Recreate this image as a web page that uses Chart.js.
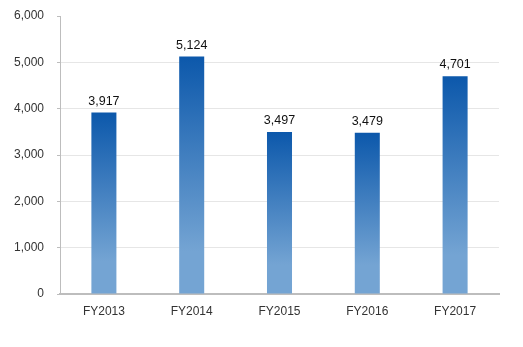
<!DOCTYPE html>
<html>
<head>
<meta charset="utf-8">
<script src="https://cdn.jsdelivr.net/npm/chart.js@4/dist/chart.umd.min.js"></script>
<style>
  html, body { margin: 0; padding: 0; background: #fff; }
  #wrap { width: 523px; height: 347px; }
</style>
</head>
<body>
<div id="wrap"><canvas id="myChart"></canvas></div>
<script>
const years = ['FY2013', 'FY2014', 'FY2015', 'FY2016', 'FY2017'];
const amounts = [3917, 5124, 3497, 3479, 4701];
const yTicks = [0, 1000, 2000, 3000, 4000, 5000, 6000];

const fontFamily = '"Liberation Sans", Arial, sans-serif';

function barFill(context) {
    const chart = context.chart;
    const y = chart.scales.y;
    if (!y || context.parsed == null || y.top === undefined) return '#3f72b4';
    const top = y.getPixelForValue(context.parsed.y);
    const base = y.getPixelForValue(0);
    if (!isFinite(top) || !isFinite(base)) return '#3f72b4';
    const g = chart.ctx.createLinearGradient(0, top, 0, base);
    g.addColorStop(0, '#0c58ab');
    g.addColorStop(0.82, '#74a4d3');
    g.addColorStop(1, '#74a4d3');
    return g;
}

// value labels above each bar
const valueLabels = {
    id: 'valueLabels',
    afterDatasetsDraw(chart) {
        const ctx = chart.ctx;
        const meta = chart.getDatasetMeta(0);
        ctx.save();
        ctx.font = '12.5px ' + fontFamily;
        ctx.fillStyle = '#111';
        ctx.textAlign = 'center';
        ctx.textBaseline = 'bottom';
        meta.data.forEach((bar, i) => {
            ctx.fillText(amounts[i].toLocaleString('en-US'), bar.x, bar.y - 5);
        });
        ctx.restore();
    }
};

new Chart(document.getElementById('myChart').getContext('2d'), {
    type: 'bar',
    data: {
        labels: years,
        datasets: [{
            data: amounts,
            backgroundColor: barFill,
            borderWidth: 0,
            barPercentage: 0.57,
            categoryPercentage: 0.5
        }]
    },
    options: {
        responsive: true,
        maintainAspectRatio: false,
        animation: false,
        layout: { padding: { left: 0, top: 16, right: 24, bottom: 0 } },
        plugins: {
            legend: { display: false },
            tooltip: { enabled: false }
        },
        scales: {
            x: {
                grid: { display: false },
                border: { color: '#bdbdbd', width: 2 },
                ticks: { color: '#333', font: { family: fontFamily, size: 12 }, padding: 2 },
                afterFit(scale) { scale.height = 53; }
            },
            y: {
                min: 0,
                max: 6000,
                afterBuildTicks(scale) { scale.ticks = yTicks.map(v => ({ value: v })); },
                grid: {
                    color: (c) => (c.tick && c.tick.value === 6000) ? 'rgba(0,0,0,0)' : '#e6e6e6',
                    tickColor: '#bdbdbd',
                    tickLength: 3
                },
                border: { color: '#bdbdbd', width: 1 },
                ticks: {
                    color: '#333',
                    font: { family: fontFamily, size: 12 },
                    padding: 13,
                    callback: (v) => v.toLocaleString('en-US')
                },
                afterFit(scale) {
                    scale.width = 60;
                    scale.paddingTop = 7;
                    scale.paddingBottom = 7;
                }
            }
        }
    },
    plugins: [valueLabels]
});
</script>
</body>
</html>
